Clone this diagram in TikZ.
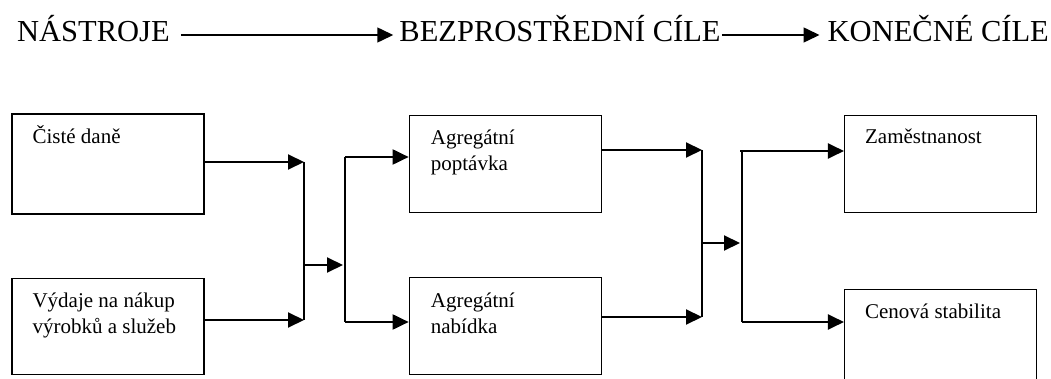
\documentclass[tikz,border=0pt]{standalone}
\usepackage{fontspec}
\setmainfont{Liberation Serif}
\usetikzlibrary{arrows.meta,positioning}
\tikzset{
    stage/.style ={
        shape=rectangle,
        draw=black,
        line width=1.3pt,
        minimum width=192pt,
        minimum height=97pt,
        inner sep=0pt
    },
    boxtext/.style ={
        anchor=base west,
        align=left,
        inner sep=0pt,
        font=\fontsize{21}{26}\selectfont
    },
    heading/.style ={
        inner sep=0pt,
        font=\fontsize{30.5}{36}\selectfont
    },
    flow/.style ={
        line width=2pt,
        -{Triangle[length=16pt,width=15pt]}
    },
    junction/.style ={
        line width=2pt
    }
}

\begin{document}
\begin{tikzpicture}[x=1pt,y=-1pt]
    \useasboundingbox (0,0) rectangle (1051,379);
    \clip (0,0) rectangle (1051,379);
    % headings
    \node[heading,anchor=base west] (h1) at (17,42) {NÁSTROJE};
    \node[heading,anchor=base] (h2) at (560,42) {BEZPROSTŘEDNÍ CÍLE};
    \node[heading,anchor=base east] (h3) at (1049,42) {KONEČNÉ CÍLE};
    \draw[flow,line width=1.5pt] ([shift={(11pt,7pt)}]h1.base east) -- ([shift={(-6pt,7pt)}]h2.base west);
    \draw[flow,line width=1.5pt] ([shift={(1pt,7pt)}]h2.base east) -- ([shift={(-8pt,7pt)}]h3.base west);
    % boxes
    \node[stage,minimum height=100pt] (b1) at (108,164) {};
    \node[stage,below=63pt of b1,minimum height=96pt] (b2) {};
    \node[stage,right=204pt of b1] (b3) {};
    \node[stage,right=204pt of b2] (b4) {};
    \node[stage,right=242pt of b3] (b5) {};
    \node[stage,right=242pt of b4,yshift=-28pt,minimum height=130pt] (b6) {};
    \node[boxtext] (t1) at ([shift={(21pt,-30pt)}]b1.north west) {Čisté daně};
    \node[boxtext] (t2) at ([shift={(21pt,-56pt)}]b2.north west) {Výdaje na nákup\\výrobků a služeb};
    \node[boxtext] (t3) at ([shift={(22pt,-56pt)}]b3.north west) {Agregátní\\poptávka};
    \node[boxtext] (t4) at ([shift={(22pt,-56pt)}]b4.north west) {Agregátní\\nabídka};
    \node[boxtext] (t5) at ([shift={(21pt,-29pt)}]b5.north west) {Zaměstnanost};
    \node[boxtext] (t6) at ([shift={(21pt,-30pt)}]b6.north west) {Cenová stabilita};
    % junctions
    \coordinate (m1t) at (304,162);
    \coordinate (m1b) at (304,320);
    \coordinate (m1c) at (304,265);
    \coordinate (s1t) at (345,157);
    \coordinate (s1b) at (345,322);
    \coordinate (m2t) at (702,150);
    \coordinate (m2b) at (702,317);
    \coordinate (m2c) at (702,243);
    \coordinate (s2t) at (742,151);
    \coordinate (s2b) at (742,322);
    % connectors
    \draw[flow] (b1.east |- m1t) -- (m1t);
    \draw[flow] (b2.east |- m1b) -- (m1b);
    \draw[junction] (m1t) -- (m1b);
    \draw[flow] (m1c) -- ([xshift=-2pt]s1t |- m1c);
    \draw[junction] (s1t) -- (s1b);
    \draw[flow] (s1t) -- (b3.west |- s1t);
    \draw[flow] (s1b) -- (b4.west |- s1b);
    \draw[flow] (b3.east |- m2t) -- (m2t);
    \draw[flow] (b4.east |- m2b) -- (m2b);
    \draw[junction] (m2t) -- (m2b);
    \draw[flow] (m2c) -- ([xshift=-2pt]s2t |- m2c);
    \draw[junction] (s2t) -- (s2b);
    \draw[flow] ([xshift=-2pt]s2t) -- (b5.west |- s2t);
    \draw[flow] (s2b) -- (b6.west |- s2b);
\end{tikzpicture}
\end{document}
